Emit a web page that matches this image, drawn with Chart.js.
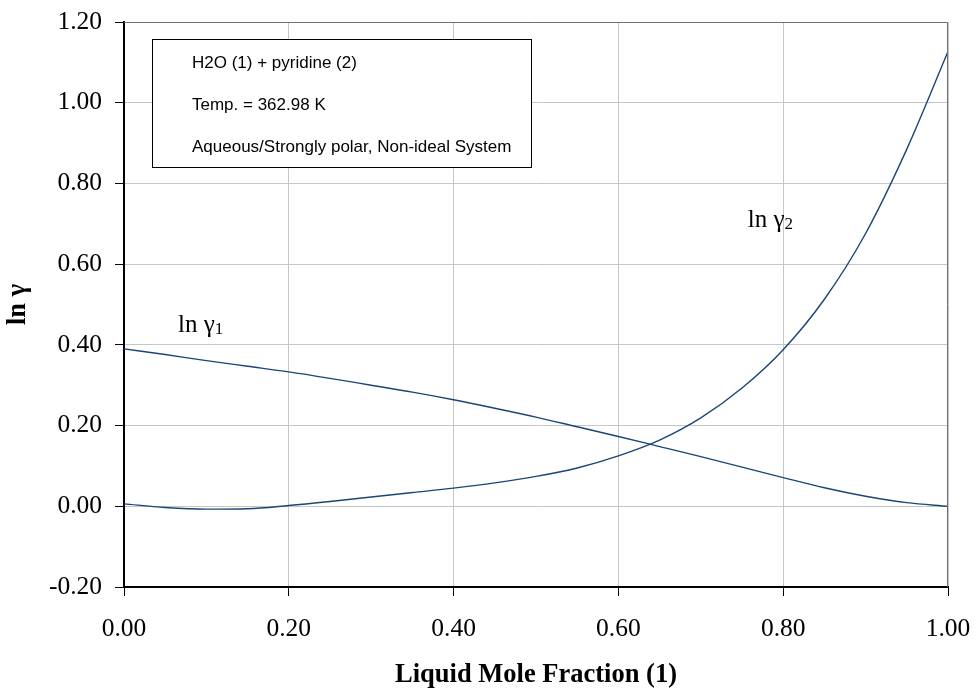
<!DOCTYPE html>
<html>
<head>
<meta charset="utf-8">
<script src="https://cdn.jsdelivr.net/npm/chart.js@4.4.1/dist/chart.umd.min.js"></script>
<style>
  html, body { margin: 0; padding: 0; background: #fff; }
  #wrap { width: 976px; height: 691px; }
</style>
</head>
<body>
<div id="wrap"><canvas id="gammaChart" width="976" height="691"></canvas></div>
<script>
// liquid mole fraction of water (1)
const xFraction = [0.00, 0.05, 0.10, 0.15, 0.20, 0.25, 0.30, 0.35, 0.40, 0.45, 0.50,
                   0.55, 0.60, 0.65, 0.70, 0.75, 0.80, 0.85, 0.90, 0.95, 1.00];
const lnGamma1 = [0.390, 0.376, 0.361, 0.347, 0.333, 0.317, 0.300, 0.283, 0.264, 0.243, 0.221,
                  0.197, 0.173, 0.148, 0.123, 0.097, 0.071, 0.046, 0.025, 0.009, 0.000];
const lnGamma2 = [0.006, -0.003, -0.007, -0.006, 0.002, 0.012, 0.023, 0.034, 0.045, 0.058, 0.074,
                  0.095, 0.125, 0.164, 0.219, 0.293, 0.388, 0.513, 0.676, 0.885, 1.127];
const xTicks = [0.0, 0.2, 0.4, 0.6, 0.8, 1.0];
const yTicks = [-0.2, 0.0, 0.2, 0.4, 0.6, 0.8, 1.0, 1.2];
const infoLines = ['H2O (1) + pyridine (2)', 'Temp. = 362.98 K', 'Aqueous/Strongly polar, Non-ideal System'];

const lineColor = '#1a4677';
const serif = '"Liberation Serif", "Times New Roman", serif';

const toPoints = (ys) => xFraction.map((x, i) => ({ x: x, y: ys[i] }));

// draws the info box, the curve labels and the top/right frame
const overlayPlugin = {
  id: 'overlay',
  afterDraw(chart) {
    const { ctx, chartArea: a, scales } = chart;
    ctx.save();
    ctx.strokeStyle = '#707070';
    ctx.lineWidth = 1;
    ctx.beginPath();
    ctx.moveTo(a.left, a.top + 0.5);
    ctx.lineTo(a.right - 0.5, a.top + 0.5);
    ctx.lineTo(a.right - 0.5, a.bottom);
    ctx.stroke();

    // info box
    ctx.fillStyle = '#fff';
    ctx.fillRect(152, 39, 379, 128);
    ctx.strokeStyle = '#000';
    ctx.strokeRect(152.5, 39.5, 379, 128);
    ctx.fillStyle = '#000';
    ctx.font = '17px "Liberation Sans", Arial, sans-serif';
    ctx.textBaseline = 'alphabetic';
    infoLines.forEach((t, i) => ctx.fillText(t, 192, 68 + i * 42));

    // curve labels
    const label = (sub, x, y) => {
      ctx.font = '25px ' + serif;
      ctx.textBaseline = 'alphabetic';
      ctx.fillText('ln \u03b3', x, y);
      const w = ctx.measureText('ln \u03b3').width;
      ctx.font = '17px ' + serif;
      ctx.fillText(sub, x + w, y + 2);
    };
    label('1', scales.x.getPixelForValue(0.0655), scales.y.getPixelForValue(0.432));
    label('2', scales.x.getPixelForValue(0.757), scales.y.getPixelForValue(0.692));
    ctx.restore();
  }
};

new Chart(document.getElementById('gammaChart'), {
  type: 'scatter',
  data: {
    datasets: [
      { label: 'ln gamma1', data: toPoints(lnGamma1) },
      { label: 'ln gamma2', data: toPoints(lnGamma2) }
    ]
  },
  options: {
    responsive: false,
    animation: false,
    showLine: true,
    layout: { padding: { left: 0, right: 28, top: 22, bottom: 0 } },
    elements: {
      point: { radius: 0, hoverRadius: 0 },
      line: { borderColor: lineColor, borderWidth: 1.4, cubicInterpolationMode: 'monotone', fill: false }
    },
    plugins: {
      legend: { display: false },
      tooltip: { enabled: false }
    },
    scales: {
      x: {
        type: 'linear',
        min: 0, max: 1,
        afterFit(scale) {
          scale.height = 104;
          scale.paddingLeft = 0;
          scale.paddingRight = 0;
        },
        afterBuildTicks(scale) { scale.ticks = xTicks.map(v => ({ value: v })); },
        grid: { color: '#c6c6c6', tickColor: '#000', tickLength: 9, lineWidth: 1 },
        border: { color: '#000', width: 2 },
        ticks: {
          color: '#000',
          padding: 18,
          maxRotation: 0,
          font: { family: serif, size: 25.5 },
          callback: (v) => v.toFixed(2)
        },
        title: {
          display: true,
          text: 'Liquid Mole Fraction (1)',
          color: '#000',
          padding: { top: 0, bottom: 0 },
          font: { family: serif, size: 26.5, weight: 'bold' }
        }
      },
      y: {
        type: 'linear',
        min: -0.2, max: 1.2,
        afterFit(scale) {
          scale.width = 124;
          scale.paddingTop = 0;
          scale.paddingBottom = 0;
        },
        afterBuildTicks(scale) { scale.ticks = yTicks.map(v => ({ value: v })); },
        grid: { color: '#c6c6c6', tickColor: '#000', tickLength: 9, lineWidth: 1 },
        border: { color: '#000', width: 2 },
        ticks: {
          color: '#000',
          padding: 13,
          font: { family: serif, size: 25.5 },
          callback: (v) => v.toFixed(2)
        },
        title: {
          display: true,
          text: 'ln \u03b3',
          color: '#000',
          padding: { top: 2, bottom: 0 },
          font: { family: serif, size: 26.5, weight: 'bold' }
        }
      }
    }
  },
  plugins: [overlayPlugin]
});
</script>
</body>
</html>
